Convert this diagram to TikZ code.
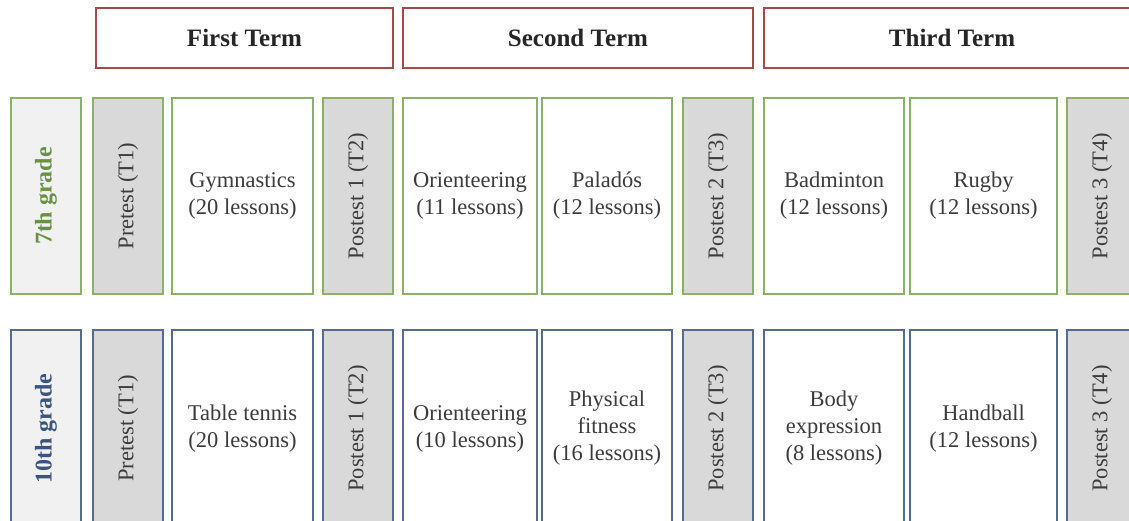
\documentclass[tikz,border=0pt]{standalone}
\usepackage{fontspec}
\setmainfont{Liberation Serif}
\usetikzlibrary{positioning}

\definecolor{termred}{RGB}{168,72,72}
\definecolor{sevengreen}{RGB}{140,176,104}
\definecolor{seventext}{RGB}{104,146,66}
\definecolor{tenblue}{RGB}{88,106,146}
\definecolor{tentext}{RGB}{58,84,128}
\definecolor{testgray}{RGB}{217,217,217}
\definecolor{gradegray}{RGB}{241,241,241}
\definecolor{txtgray}{RGB}{60,60,60}

\begin{document}
\begin{tikzpicture}[x=1pt,y=-1pt]

	\tikzset{
		cell/.style={draw,line width=1.4pt,inner sep=2pt,align=center,text=txtgray,
				font=\fontsize{22.5}{27}\selectfont},
		term/.style={cell,draw=termred,fill=white,minimum height=60pt,text=black!85,
				font=\bfseries\fontsize{25}{30}\selectfont},
		testcell/.style={cell,fill=testgray,rotate=90,minimum height=70pt},
		gradecell/.style={cell,fill=gradegray,rotate=90,minimum height=70pt,
				font=\bfseries\fontsize{24}{28}\selectfont},
		lessoncell/.style={cell,fill=white},
		seventh/.style={draw=sevengreen},
		tenth/.style={draw=tenblue}
	}

	\useasboundingbox (0,0) rectangle (1129,521);
	\fill[white] (0,0) rectangle (1129,521);

	% terms
	\foreach \name/\cx/\w/\txt in {first/244.5/297/First Term, second/578/350/Second Term, third/952/376/Third Term} {
			\node[term,minimum width=\w pt] (\name) at (\cx,38) {\txt};
		}

	% grades
	\node[gradecell,seventh,text=seventext,minimum width=196pt] (g7) at (46,196) {7th grade};
	\node[gradecell,tenth,text=tentext,minimum width=197pt] (g10) at (46,428.5) {10th grade};

	% tests, same in both rows
	\foreach \row/\cy/\h/\sty in {7/196/196/seventh, 10/428.5/197/tenth} {
			\foreach \name/\cx/\txt in {pre/128/Pretest (T1), posta/358/Postest 1 (T2), postb/718/Postest 2 (T3), postc/1102/Postest 3 (T4)} {
					\node[testcell,\sty,minimum width=\h pt] (\name\row) at (\cx,\cy) {\txt};
				}
		}

	% lessons 7th grade
	\foreach \name/\cx/\w/\txt in {gym/242.5/141/{Gymnastics\\(20 lessons)}, ori7/470/134/{Orienteering\\(11 lessons)}, pal/607/130/{Paladós\\(12 lessons)}, bad/834/140/{Badminton\\(12 lessons)}, rug/983.5/147/{Rugby\\(12 lessons)}} {
			\node[lessoncell,seventh,minimum width=\w pt,minimum height=196pt] (\name) at (\cx,196) {\txt};
		}

	% lessons 10th grade
	\foreach \name/\cx/\w/\txt in {tab/242.5/141/{Table tennis\\(20 lessons)}, ori10/470/134/{Orienteering\\(10 lessons)}, phys/607/130/{Physical\\fitness\\(16 lessons)}, body/834/140/{Body\\expression\\(8 lessons)}, hand/983.5/147/{Handball\\(12 lessons)}} {
			\node[lessoncell,tenth,minimum width=\w pt,minimum height=197pt] (\name) at (\cx,428.5) {\txt};
		}
\end{tikzpicture}
\end{document}
